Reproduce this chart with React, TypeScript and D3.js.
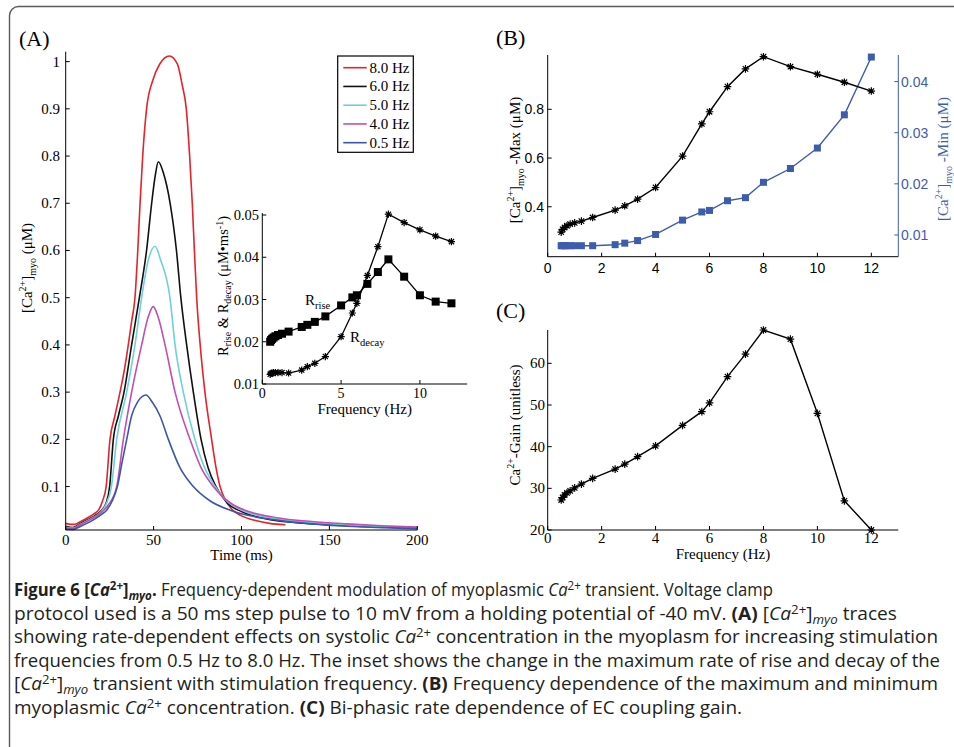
import React from 'react';
import * as d3 from 'd3';

// ---------- Panel A traces ----------
const traceLabels = ['8.0 Hz', '6.0 Hz', '5.0 Hz', '4.0 Hz', '0.5 Hz'];
const traceColors = ['#e4232b', '#111111', '#6fcfdc', '#c04fb3', '#3b56aa'];
const t8 = [0, 3, 5, 8, 12, 16, 19, 21, 23, 25.2, 28, 30.9, 33.5, 35.6, 37.5, 39.4, 41, 42.3, 43.8, 46, 49.5, 53.5, 59, 63.5, 66.3, 68.6, 70.5, 72, 73.2, 74.5, 76.5, 79.2, 83, 85.5, 87.8, 91, 95, 100, 108, 116, 125];
const v8 = [0.022, 0.02, 0.02, 0.025, 0.033, 0.042, 0.052, 0.07, 0.1, 0.2, 0.25, 0.3, 0.35, 0.4, 0.45, 0.5, 0.6, 0.7, 0.8, 0.9, 0.96, 0.995, 1.012, 0.995, 0.95, 0.9, 0.8, 0.7, 0.6, 0.5, 0.4, 0.3, 0.2, 0.14, 0.1, 0.07, 0.05, 0.038, 0.028, 0.022, 0.019];
const t6 = [0, 4, 8, 12, 16, 20, 23, 25, 27.1, 30, 33.2, 37.5, 41.9, 46, 48.9, 51, 52.7, 55.5, 59.4, 63, 65.5, 68.8, 72.6, 77, 81, 85.5, 92, 100, 115, 130, 150, 175, 200];
const v6 = [0.016, 0.013, 0.021, 0.029, 0.037, 0.048, 0.065, 0.1, 0.2, 0.25, 0.3, 0.4, 0.5, 0.6, 0.7, 0.76, 0.788, 0.765, 0.7, 0.6, 0.5, 0.4, 0.3, 0.2, 0.14, 0.1, 0.065, 0.047, 0.031, 0.024, 0.019, 0.015, 0.012];
const t5 = [0, 4, 8, 12, 16, 20, 23, 26, 29, 34.7, 39.4, 43.2, 47, 50.8, 54, 59.3, 62.2, 66.9, 73.5, 79, 85, 92, 99, 110, 125, 150, 175, 200];
const v5 = [0.014, 0.012, 0.019, 0.027, 0.035, 0.046, 0.063, 0.1, 0.2, 0.3, 0.4, 0.5, 0.58, 0.609, 0.58, 0.5, 0.4, 0.3, 0.2, 0.14, 0.1, 0.068, 0.052, 0.038, 0.029, 0.021, 0.016, 0.013];
const t4 = [0, 4, 8, 12, 16, 20, 24, 29, 32.8, 37.5, 43.2, 47, 49.8, 52.5, 56.5, 62.2, 70.7, 77, 84, 95, 105, 120, 140, 160, 180, 200];
const v4 = [0.012, 0.011, 0.018, 0.026, 0.034, 0.044, 0.06, 0.1, 0.2, 0.3, 0.4, 0.46, 0.481, 0.46, 0.4, 0.3, 0.2, 0.14, 0.1, 0.062, 0.046, 0.034, 0.026, 0.021, 0.017, 0.014];
const t05 = [0, 4, 8, 12, 16, 20, 23.3, 26.5, 29.4, 32, 34.7, 37.5, 41, 45.7, 49, 53.6, 58.4, 65, 72.6, 82, 93.5, 105, 120, 140, 160, 180, 200];
const v05 = [0.01, 0.009, 0.015, 0.022, 0.03, 0.04, 0.05, 0.07, 0.1, 0.15, 0.2, 0.25, 0.28, 0.294, 0.28, 0.25, 0.2, 0.14, 0.1, 0.07, 0.05, 0.038, 0.029, 0.021, 0.016, 0.013, 0.011];
const traceTimes = [t8, t6, t5, t4, t05];
const traceValues = [v8, v6, v5, v4, v05];
const timeTicks = [0, 50, 100, 150, 200];
const caTicks = [0.1, 0.2, 0.3, 0.4, 0.5, 0.6, 0.7, 0.8, 0.9, 1];

// ---------- Frequency data ----------
const freqs = [0.5, 0.556, 0.625, 0.714, 0.833, 1.0, 1.25, 1.667, 2.5, 2.857, 3.333, 4, 5, 5.714, 6, 6.667, 7.333, 8, 9, 10, 11, 12];
const rRise = [0.02, 0.0204, 0.0207, 0.021, 0.0213, 0.0216, 0.0219, 0.0224, 0.0235, 0.024, 0.0247, 0.026, 0.0286, 0.0305, 0.031, 0.0337, 0.0365, 0.0395, 0.0354, 0.031, 0.0295, 0.0291];
const rDecay = [0.0123, 0.0125, 0.0126, 0.0127, 0.0127, 0.0127, 0.0127, 0.0126, 0.0133, 0.0141, 0.0149, 0.0165, 0.0212, 0.0268, 0.0291, 0.0357, 0.0425, 0.0502, 0.0482, 0.0465, 0.045, 0.0437];
const caMax = [0.296, 0.307, 0.315, 0.322, 0.329, 0.334, 0.341, 0.356, 0.386, 0.404, 0.431, 0.479, 0.608, 0.74, 0.79, 0.893, 0.966, 1.016, 0.975, 0.944, 0.911, 0.875];
const caMin = [0.0079, 0.0079, 0.0079, 0.0079, 0.0079, 0.0079, 0.0079, 0.0079, 0.0081, 0.0084, 0.0089, 0.0101, 0.0129, 0.0145, 0.0148, 0.0167, 0.0173, 0.0203, 0.023, 0.027, 0.0335, 0.0448];
const gain = [27.2, 27.8, 28.4, 28.9, 29.4, 30.1, 31.0, 32.4, 34.6, 35.8, 37.6, 40.2, 45.1, 48.4, 50.5, 56.8, 62.2, 68.0, 65.8, 48.0, 27.0, 20.0];
const insetXTicks = [0, 5, 10];
const insetYTicks = [0.01, 0.02, 0.03, 0.04, 0.05];
const freqTicks = [0, 2, 4, 6, 8, 10, 12];
const maxTicks = [0.4, 0.6, 0.8];
const minTicks = [0.01, 0.02, 0.03, 0.04];
const gainTicks = [20, 30, 40, 50, 60];

// ---------- Caption ----------
type Seg = { t: string; b?: boolean; i?: boolean; sup?: boolean; sub?: boolean };
const captionLines: Seg[][] = [
  [{ t: 'Figure 6 [', b: true }, { t: 'Ca', b: true, i: true }, { t: '2+', b: true, sup: true }, { t: ']', b: true }, { t: 'myo', b: true, i: true, sub: true }, { t: '.', b: true }, { t: ' Frequency-dependent modulation of myoplasmic ' }, { t: 'Ca', i: true }, { t: '2+', sup: true }, { t: ' transient. Voltage clamp' }],
  [{ t: 'protocol used is a 50 ms step pulse to 10 mV from a holding potential of -40 mV. ' }, { t: '(A)', b: true }, { t: ' [' }, { t: 'Ca', i: true }, { t: '2+', sup: true }, { t: ']' }, { t: 'myo', i: true, sub: true }, { t: ' traces' }],
  [{ t: 'showing rate-dependent effects on systolic ' }, { t: 'Ca', i: true }, { t: '2+', sup: true }, { t: ' concentration in the myoplasm for increasing stimulation' }],
  [{ t: 'frequencies from 0.5 Hz to 8.0 Hz. The inset shows the change in the maximum rate of rise and decay of the' }],
  [{ t: '[' }, { t: 'Ca', i: true }, { t: '2+', sup: true }, { t: ']' }, { t: 'myo', i: true, sub: true }, { t: ' transient with stimulation frequency. ' }, { t: '(B)', b: true }, { t: ' Frequency dependence of the maximum and minimum' }],
  [{ t: 'myoplasmic ' }, { t: 'Ca', i: true }, { t: '2+', sup: true }, { t: ' concentration. ' }, { t: '(C)', b: true }, { t: ' Bi-phasic rate dependence of EC coupling gain.' }],
];
const captionEnds = [773, 897, 938, 940, 938, 742];

const SERIF = '"Liberation Serif", "DejaVu Serif", "Times New Roman", serif';
const SANS = '"Liberation Sans", Arial, sans-serif';
const CAP = '"Open Sans", "Noto Sans", sans-serif';

function starPath(cx: number, cy: number, r: number) {
  const d = r * 0.72;
  return `M${cx - r},${cy}L${cx + r},${cy}M${cx},${cy - r}L${cx},${cy + r}M${cx - d},${cy - d}L${cx + d},${cy + d}M${cx - d},${cy + d}L${cx + d},${cy - d}`;
}

function CaptionLine({ segs, y, end }: { segs: Seg[]; y: number; end: number }) {
  let shift = 0;
  const x0 = 14;
  return (
    <text x={x0} y={y} fontFamily={CAP} fontSize={18} fill="#231f20" textLength={end - x0} lengthAdjust="spacingAndGlyphs" style={{ whiteSpace: 'pre' }}>
      {segs.map((s, k) => {
        const target = s.sup ? -6 : s.sub ? 4 : 0;
        const dy = target - shift;
        shift = target;
        return (
          <tspan key={k} dy={dy} fontWeight={s.b ? 700 : 400} fontStyle={s.i ? 'italic' : 'normal'} fontSize={s.sup || s.sub ? 12.5 : 18}>
            {s.t}
          </tspan>
        );
      })}
    </text>
  );
}

export default function App() {
  // Panel A scales
  const xA = d3.scaleLinear().domain([0, 200]).range([65.7, 417.3]);
  const yA = d3.scaleLinear().domain([0.008, 1.021]).range([530, 51.7]);
  // Inset
  const xI = d3.scaleLinear().domain([0, 13]).range([262.3, 467.2]);
  const yI = d3.scaleLinear().domain([0.01, 0.05]).range([384, 215]);
  // Panel B
  const xB = d3.scaleLinear().domain([0, 13]).range([547.7, 898.3]);
  const yBL = d3.scaleLinear().domain([0.195, 1.023]).range([256.7, 55]);
  const yBR = d3.scaleLinear().domain([0.00575, 0.0452]).range([256.7, 55]);
  // Panel C
  const xC = d3.scaleLinear().domain([0, 13]).range([547.7, 898.3]);
  const yC = d3.scaleLinear().domain([20, 68]).range([530, 330]);

  const traceLine = d3.line<[number, number]>().x(d => xA(d[0])).y(d => yA(d[1])).curve(d3.curveMonotoneX);
  const lineOf = (xs: d3.ScaleLinear<number, number>, ys: d3.ScaleLinear<number, number>, vals: number[]) =>
    d3.line<number>().x((_, i) => xs(freqs[i])).y(d => ys(d))(vals) || '';

  const blue = '#3d5cad';
  const tick = 4;

  return (
    <svg width={954} height={747} style={{ position: 'absolute', left: 0, top: 0, background: '#fff' }}>
      <rect x={9.5} y={6.5} width={980} height={780} rx={9} fill="none" stroke="#5a5a5a" strokeWidth={1.4} />

      {/* ---------------- Panel A ---------------- */}
      <text x={19} y={46} fontFamily={SERIF} fontSize={22}>(A)</text>
      {traceTimes.map((ts, k) => (
        <path key={k} d={traceLine(ts.map((t, i) => [t, traceValues[k][i]] as [number, number])) || ''} fill="none" stroke={traceColors[k]} strokeWidth={1.6} />
      ))}
      <line x1={xA(0)} x2={xA(0)} y1={51.7} y2={530} stroke="#000" strokeWidth={1} />
      <line x1={xA(0)} x2={xA(200)} y1={530} y2={530} stroke="#000" strokeWidth={1} />
      {caTicks.map(v => (
        <g key={v}>
          <line x1={xA(0)} x2={xA(0) + tick} y1={yA(v)} y2={yA(v)} stroke="#000" />
          <text x={60} y={yA(v) + 5} textAnchor="end" fontFamily={SERIF} fontSize={15}>{String(v)}</text>
        </g>
      ))}
      {timeTicks.map(v => (
        <g key={v}>
          <line x1={xA(v)} x2={xA(v)} y1={530} y2={530 - tick} stroke="#000" />
          <text x={xA(v)} y={545} textAnchor="middle" fontFamily={SERIF} fontSize={15}>{String(v)}</text>
        </g>
      ))}
      <text x={xA(100)} y={560} textAnchor="middle" fontFamily={SERIF} fontSize={15}>Time (ms)</text>
      <text transform="translate(32,268) rotate(-90)" textAnchor="middle" fontFamily={SERIF} fontSize={15}>
        <tspan>[Ca</tspan><tspan dy={-6} fontSize={10}>2+</tspan><tspan dy={6}>]</tspan><tspan dy={4} fontSize={10}>myo</tspan><tspan dy={-4}>  (μM)</tspan>
      </text>

      {/* Legend */}
      <rect x={337.7} y={56} width={75.6} height={96.3} fill="#fff" stroke="#000" strokeWidth={1.2} />
      {traceLabels.map((lab, k) => (
        <g key={lab}>
          <line x1={343.3} x2={366.7} y1={67.7 + k * 18.75} y2={67.7 + k * 18.75} stroke={traceColors[k]} strokeWidth={1.6} />
          <text x={369.5} y={67.7 + k * 18.75 + 5} fontFamily={SERIF} fontSize={15}>{lab}</text>
        </g>
      ))}

      {/* Inset */}
      <line x1={xI(0)} x2={xI(0)} y1={213} y2={384} stroke="#000" />
      <line x1={xI(0)} x2={xI(13)} y1={384} y2={384} stroke="#000" />
      {insetYTicks.map(v => (
        <g key={v}>
          <line x1={xI(0)} x2={xI(0) + tick} y1={yI(v)} y2={yI(v)} stroke="#000" />
          <text x={259} y={yI(v) + 5} textAnchor="end" fontFamily={SERIF} fontSize={14.5}>{v.toFixed(2)}</text>
        </g>
      ))}
      {insetXTicks.map(v => (
        <g key={v}>
          <line x1={xI(v)} x2={xI(v)} y1={384} y2={384 - tick} stroke="#000" />
          <text x={xI(v)} y={398} textAnchor="middle" fontFamily={SERIF} fontSize={14}>{String(v)}</text>
        </g>
      ))}
      <text x={xI(6.5)} y={413.5} textAnchor="middle" fontFamily={SERIF} fontSize={15}>Frequency (Hz)</text>
      <text transform="translate(228,286) rotate(-90)" textAnchor="middle" fontFamily={SERIF} fontSize={14.5}>
        <tspan>R</tspan><tspan dy={3} fontSize={10}>rise</tspan><tspan dy={-3}> &amp; R</tspan><tspan dy={3} fontSize={10}>decay</tspan><tspan dy={-3}> (μM•ms</tspan><tspan dy={-5} fontSize={10}>-1</tspan><tspan dy={5}>)</tspan>
      </text>
      <path d={lineOf(xI, yI, rRise)} fill="none" stroke="#000" strokeWidth={1.3} />
      <path d={lineOf(xI, yI, rDecay)} fill="none" stroke="#000" strokeWidth={1.3} />
      {rRise.map((v, i) => (
        <rect key={'r' + i} x={xI(freqs[i]) - 4} y={yI(v) - 4} width={8} height={8} fill="#000" />
      ))}
      {rDecay.map((v, i) => (
        <path key={'d' + i} d={starPath(xI(freqs[i]), yI(v), 3.6)} stroke="#000" strokeWidth={1.2} fill="none" />
      ))}
      <text x={305} y={305} fontFamily={SERIF} fontSize={15}>
        <tspan>R</tspan><tspan dy={4} fontSize={10.5}>rise</tspan>
      </text>
      <text x={350} y={342} fontFamily={SERIF} fontSize={15}>
        <tspan>R</tspan><tspan dy={4} fontSize={10.5}>decay</tspan>
      </text>

      {/* ---------------- Panel B ---------------- */}
      <text x={496} y={45} fontFamily={SERIF} fontSize={22}>(B)</text>
      <line x1={xB(0)} x2={xB(0)} y1={55} y2={256.7} stroke="#000" />
      <line x1={xB(0)} x2={xB(13)} y1={256.7} y2={256.7} stroke="#000" />
      <line x1={xB(13)} x2={xB(13)} y1={55} y2={256.7} stroke={blue} />
      {maxTicks.map(v => (
        <g key={v}>
          <line x1={xB(0)} x2={xB(0) + tick} y1={yBL(v)} y2={yBL(v)} stroke="#000" />
          <text x={544} y={yBL(v) + 5} textAnchor="end" fontFamily={SANS} fontSize={14}>{v.toFixed(1)}</text>
        </g>
      ))}
      {minTicks.map(v => (
        <g key={v}>
          <line x1={xB(13)} x2={xB(13) - tick} y1={yBR(v)} y2={yBR(v)} stroke={blue} />
          <text x={901} y={yBR(v) + 5} textAnchor="start" fontFamily={SANS} fontSize={14} fill={blue}>{v.toFixed(2)}</text>
        </g>
      ))}
      {freqTicks.map(v => (
        <g key={v}>
          <line x1={xB(v)} x2={xB(v)} y1={256.7} y2={256.7 - tick} stroke="#000" />
          <text x={xB(v)} y={273} textAnchor="middle" fontFamily={SANS} fontSize={14}>{String(v)}</text>
        </g>
      ))}
      <text transform="translate(520,160) rotate(-90)" textAnchor="middle" fontFamily={SERIF} fontSize={15}>
        <tspan>[Ca</tspan><tspan dy={-6} fontSize={10}>2+</tspan><tspan dy={6}>]</tspan><tspan dy={4} fontSize={10}>myo</tspan><tspan dy={-4}> -Max (μM)</tspan>
      </text>
      <text transform="translate(948,159) rotate(-90)" textAnchor="middle" fontFamily={SERIF} fontSize={15} fill={blue}>
        <tspan>[Ca</tspan><tspan dy={-6} fontSize={10}>2+</tspan><tspan dy={6}>]</tspan><tspan dy={4} fontSize={10}>myo</tspan><tspan dy={-4}> -Min (μM)</tspan>
      </text>
      <path d={lineOf(xB, yBR, caMin)} fill="none" stroke={blue} strokeWidth={1.4} />
      {caMin.map((v, i) => (
        <rect key={'m' + i} x={xB(freqs[i]) - 3.5} y={yBR(v) - 3.5} width={7} height={7} fill={blue} />
      ))}
      <path d={lineOf(xB, yBL, caMax)} fill="none" stroke="#000" strokeWidth={1.4} />
      {caMax.map((v, i) => (
        <path key={'x' + i} d={starPath(xB(freqs[i]), yBL(v), 3.8)} stroke="#000" strokeWidth={1.2} fill="none" />
      ))}

      {/* ---------------- Panel C ---------------- */}
      <text x={496} y={318} fontFamily={SERIF} fontSize={22}>(C)</text>
      <line x1={xC(0)} x2={xC(0)} y1={330} y2={530} stroke="#000" />
      <line x1={xC(0)} x2={xC(13)} y1={530} y2={530} stroke="#000" />
      {gainTicks.map(v => (
        <g key={v}>
          <line x1={xC(0)} x2={xC(0) + tick} y1={yC(v)} y2={yC(v)} stroke="#000" />
          <text x={545} y={yC(v) + 5} textAnchor="end" fontFamily={SERIF} fontSize={15}>{String(v)}</text>
        </g>
      ))}
      {freqTicks.map(v => (
        <g key={v}>
          <line x1={xC(v)} x2={xC(v)} y1={530} y2={530 - tick} stroke="#000" />
          <text x={xC(v)} y={543} textAnchor="middle" fontFamily={SERIF} fontSize={15}>{String(v)}</text>
        </g>
      ))}
      <text x={xC(6.5)} y={559} textAnchor="middle" fontFamily={SERIF} fontSize={15}>Frequency (Hz)</text>
      <text transform="translate(520,425) rotate(-90)" textAnchor="middle" fontFamily={SERIF} fontSize={15}>
        <tspan>Ca</tspan><tspan dy={-6} fontSize={10}>2+</tspan><tspan dy={6}>-Gain (unitless)</tspan>
      </text>
      <path d={lineOf(xC, yC, gain)} fill="none" stroke="#000" strokeWidth={1.4} />
      {gain.map((v, i) => (
        <path key={'g' + i} d={starPath(xC(freqs[i]), yC(v), 3.8)} stroke="#000" strokeWidth={1.2} fill="none" />
      ))}

      {/* ---------------- Caption ---------------- */}
      {captionLines.map((segs, k) => (
        <CaptionLine key={k} segs={segs} y={596 + k * 23.6} end={captionEnds[k]} />
      ))}
    </svg>
  );
}
